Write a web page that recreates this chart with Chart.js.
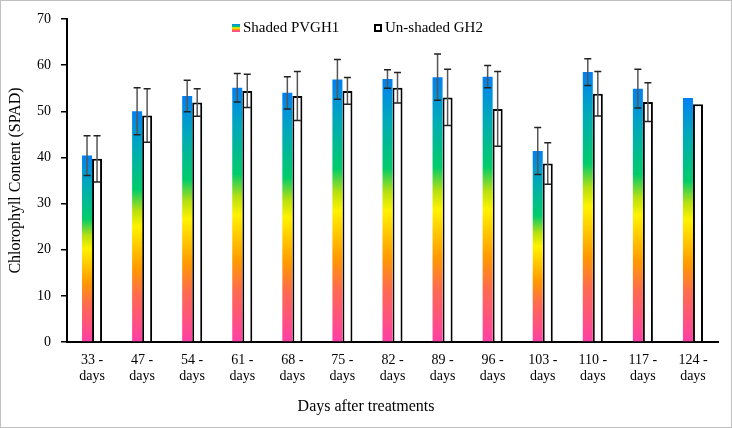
<!DOCTYPE html>
<html>
<head>
<meta charset="utf-8">
<script src="https://cdn.jsdelivr.net/npm/chart.js@4.4.1/dist/chart.umd.min.js"></script>
<style>
  html, body { margin: 0; padding: 0; background: #fff; }
  #wrap { width: 732px; height: 428px; position: relative; }
</style>
</head>
<body>
<div id="wrap"><canvas id="myChart"></canvas></div>
<script>
'use strict';
const days = ['33', '47', '54', '61', '68', '75', '82', '89', '96', '103', '110', '117', '124'];
const shaded = [40.4, 50.0, 53.3, 55.1, 54.0, 56.9, 57.0, 57.4, 57.5, 41.4, 58.5, 54.9, 52.9];
const shadedErr = [4.3, 5.1, 3.4, 3.1, 3.5, 4.3, 2.0, 5.0, 2.4, 5.1, 2.9, 4.2, 0];
const unshaded = [39.7, 49.1, 51.9, 54.4, 53.3, 54.4, 55.1, 53.0, 50.5, 38.7, 53.8, 52.0, 51.5];
const unshadedErr = [5.0, 5.8, 3.0, 3.6, 5.3, 2.9, 3.3, 6.1, 8.1, 4.5, 4.8, 4.2, 0];
const yTicks = [0, 10, 20, 30, 40, 50, 60, 70];
const serif = "'Liberation Serif', 'DejaVu Serif', serif";

const labels = days.map(d => [d + ' -', 'days']);

function rainbow(ctx, yBottom, yTop) {
  let g = ctx.createLinearGradient(0, yBottom, 0, yTop);
  g.addColorStop(0, '#ff3fa6');
  g.addColorStop(0.2, '#ff6a50');
  g.addColorStop(0.32, '#ff9a00');
  g.addColorStop(0.5, '#fff200');
  g.addColorStop(0.57, '#b8e010');
  g.addColorStop(0.66, '#00cc6a');
  g.addColorStop(0.85, '#00a8bc');
  g.addColorStop(1, '#0080f4');
  return g;
}

function shadedFill(c) {
  const chart = c.chart;
  if (!chart.chartArea || c.type !== 'data') return '#0080f4';
  const y = chart.scales.y;
  return rainbow(chart.ctx, y.getPixelForValue(0), y.getPixelForValue(c.raw));
}

// error bars with caps
const errorBars = {
  id: 'errorBars',
  afterDatasetsDraw(chart) {
    const ctx = chart.ctx;
    const y = chart.scales.y;
    const errs = [shadedErr, unshadedErr];
    const vals = [shaded, unshaded];
    ctx.save();
    ctx.lineWidth = 1.5;
    for (let d = 0; d < 2; d++) {
      const meta = chart.getDatasetMeta(d);
      meta.data.forEach((bar, i) => {
        const e = errs[d][i];
        if (!e) return;
        const top = y.getPixelForValue(vals[d][i] + e);
        const bot = y.getPixelForValue(vals[d][i] - e);
        const x = bar.x;
        ctx.strokeStyle = '#555';
        ctx.beginPath();
        ctx.moveTo(x, top);
        ctx.lineTo(x, bot);
        ctx.stroke();
        ctx.strokeStyle = '#222';
        ctx.beginPath();
        ctx.moveTo(x - 3.5, top);
        ctx.lineTo(x + 3.5, top);
        ctx.moveTo(x - 3.5, bot);
        ctx.lineTo(x + 3.5, bot);
        ctx.stroke();
      });
    }
    ctx.restore();
  }
};

// legend, x title and frame
const extras = {
  id: 'extras',
  afterDraw(chart) {
    const ctx = chart.ctx;
    ctx.save();
    ctx.fillStyle = '#000';
    ctx.font = '15px ' + serif;
    ctx.textBaseline = 'middle';
    ctx.textAlign = 'left';

    ctx.fillStyle = rainbow(ctx, 32, 24);
    ctx.fillRect(232, 24, 8, 8);
    ctx.fillStyle = '#000';
    ctx.fillText('Shaded PVGH1', 243, 28);

    ctx.fillStyle = '#fff';
    ctx.fillRect(374, 24, 8, 8);
    ctx.strokeStyle = '#000';
    ctx.lineWidth = 2;
    ctx.strokeRect(375, 25, 6, 6);
    ctx.fillStyle = '#000';
    ctx.fillText('Un-shaded GH2', 385, 28);

    ctx.font = '16px ' + serif;
    ctx.textAlign = 'center';
    ctx.fillText('Days after treatments', 366, 407);

    ctx.strokeStyle = '#c0c0c0';
    ctx.lineWidth = 1;
    ctx.strokeRect(0.5, 0.5, chart.width - 1, chart.height - 1);
    ctx.restore();
  }
};

let ctx = document.getElementById('myChart').getContext('2d');
let chart = new Chart(ctx, {
  type: 'bar',
  data: {
    labels: labels,
    datasets: [{
      label: 'Shaded PVGH1',
      data: shaded,
      backgroundColor: shadedFill,
      borderWidth: 0,
      categoryPercentage: 0.4,
      barPercentage: 1.0
    },
    {
      label: 'Un-shaded GH2',
      data: unshaded,
      backgroundColor: '#ffffff',
      borderColor: '#000000',
      borderWidth: 2,
      categoryPercentage: 0.4,
      barPercentage: 1.0
    }]
  },
  options: {
    responsive: true,
    maintainAspectRatio: false,
    animation: false,
    layout: { padding: { top: 19, right: 14, left: 0, bottom: 0 } },
    plugins: {
      legend: { display: false },
      tooltip: { enabled: false }
    },
    scales: {
      x: {
        grid: { display: false },
        border: { color: '#000', width: 2 },
        ticks: {
          color: '#000',
          font: { family: serif, size: 14, lineHeight: 1.15 },
          padding: 2,
          maxRotation: 0,
          autoSkip: false
        },
        afterFit(scale) { scale.height = 86; }
      },
      y: {
        min: 0,
        max: 70,
        afterBuildTicks(scale) { scale.ticks = yTicks.map(v => ({ value: v })); },
        grid: { drawOnChartArea: false, drawTicks: true, tickLength: 6, color: '#000', lineWidth: 1.5 },
        border: { color: '#000', width: 2 },
        ticks: {
          color: '#000',
          font: { family: serif, size: 14 },
          padding: 10
        },
        title: {
          display: true,
          text: 'Chlorophyll Content (SPAD)',
          color: '#000',
          font: { family: serif, size: 16 },
          padding: { top: 6, bottom: 4 }
        },
        afterFit(scale) { scale.width = 67; }
      }
    }
  },
  plugins: [errorBars, extras]
});
</script>
</body>
</html>
